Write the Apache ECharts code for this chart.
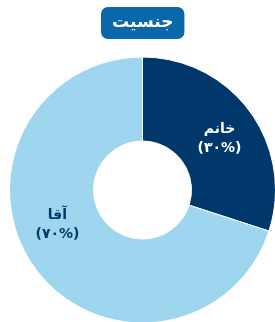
<!DOCTYPE html>
<html><head><meta charset="utf-8">
<script src="https://cdn.jsdelivr.net/npm/echarts@6/dist/echarts.min.js"></script>
<style>html,body{margin:0;padding:0;background:#fff}#c{width:275px;height:322px}</style>
</head><body><div id="c"></div>
<script>
const titleText = 'جنسیت';
const categories = ['خانم', 'آقا'];
const values = [30, 70];
const percentLabels = ['(۳۰%)', '(۷۰%)'];
const colors = ['#00386b', '#9fd6ef'];
const labelColors = ['#ffffff', '#00386b'];
const labelOffsets = [[1, 4], [-9, -20]];

const chart = echarts.init(document.getElementById('c'));
chart.setOption({
  animation: false,
  title: {
    text: titleText,
    left: 101,
    top: 7,
    backgroundColor: '#0a68aa',
    borderRadius: 7,
    padding: [7, 11, 7, 11],
    textStyle: { color: '#fff', fontSize: 17, fontWeight: 'bold', fontFamily: 'DejaVu Sans', lineHeight: 18 }
  },
  series: [{
    type: 'pie',
    center: [142.5, 190],
    radius: [49, 133],
    startAngle: 90,
    clockwise: true,
    itemStyle: { borderColor: '#fff', borderWidth: 1 },
    label: {
      position: 'inside',
      fontFamily: 'DejaVu Sans',
      fontWeight: 'bold',
      fontSize: 14,
      lineHeight: 19
    },
    labelLine: { show: false },
    data: categories.map((n, i) => ({
      name: n,
      value: values[i],
      itemStyle: { color: colors[i] },
      label: {
        formatter: n + '\n' + percentLabels[i],
        color: labelColors[i],
        offset: labelOffsets[i]
      }
    }))
  }]
});
</script></body></html>
